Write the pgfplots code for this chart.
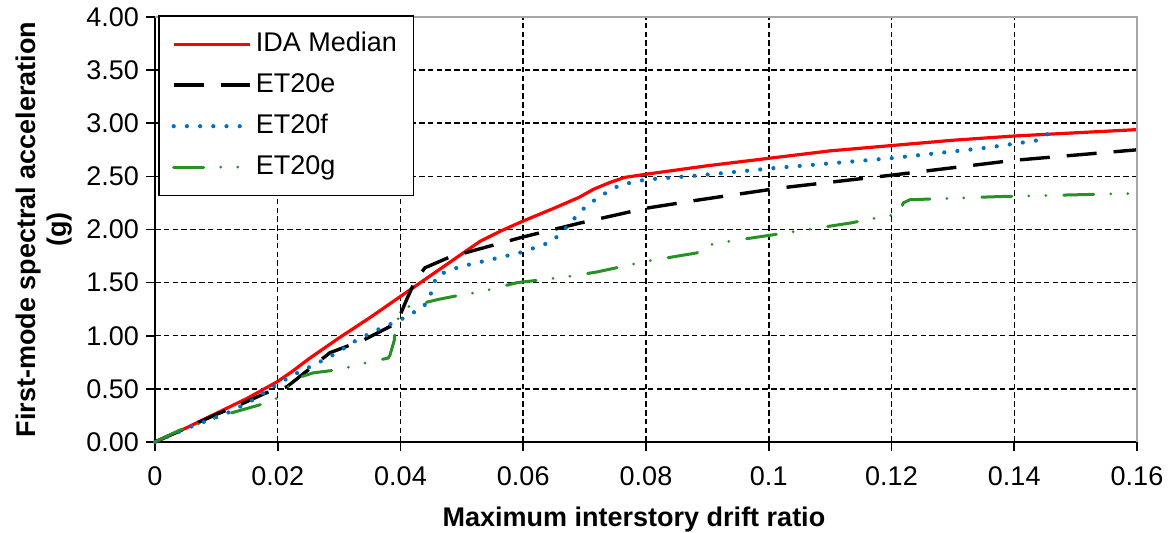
\documentclass[border=0pt]{standalone}
\usepackage{fontspec}
\setmainfont{Liberation Sans}
\usepackage{pgfplots}
\pgfplotsset{compat=1.18}
\definecolor{idared}{RGB}{255,0,0}
\definecolor{etblue}{RGB}{0,112,192}
\definecolor{etgreen}{RGB}{40,145,35}

\begin{document}
\begin{tikzpicture}
\begin{axis}[
    scale only axis,
    width=491pt, height=212.5pt,
    xmin=0, xmax=0.16,
    ymin=0, ymax=4,
    xtick={0,0.02,0.04,0.06,0.08,0.1,0.12,0.14,0.16},
    ytick={0,0.5,...,4},
    scaled x ticks=false,
    xticklabel style={yshift=-4.5pt, /pgf/number format/.cd, fixed, precision=2},
    yticklabel style={/pgf/number format/.cd, fixed, fixed zerofill, precision=2},
    /pgf/number format/assume math mode=true,
    tick label style={font=\fontsize{13.5}{15}\selectfont},
    axis x line*=bottom,
    axis y line*=left,
    axis line style={black, line width=1pt},
    tick align=outside,
    major tick length=4.5pt,
    tick style={black, line width=0.8pt},
    grid=major,
    grid style={black, line width=0.75pt, dash pattern=on 2.8pt off 1.6pt},
    xlabel={Maximum interstory drift ratio},
    ylabel={First-mode spectral acceleration\\(g)},
    label style={font=\bfseries\fontsize{13.5}{15.5}\selectfont},
    xlabel style={at={(axis description cs:0.5,0)}, anchor=center, yshift=-39pt, xshift=-6pt},
    ylabel style={align=center},
    clip=false,
    legend cell align=left,
    legend image code/.code={\draw[#1] (0pt,0pt) -- (38pt,0pt);},
    legend style={
        at={(rel axis cs:0,1)}, anchor=north west, xshift=1.5pt, yshift=1pt,
        draw=black, line width=0.8pt, fill=white,
        font=\fontsize{13.5}{16}\selectfont,
        inner xsep=6.4pt, inner ysep=5.7pt, row sep=3.5pt,
        nodes={inner sep=2pt, text height=10pt, text depth=3pt},
    },
]

\addplot[idared, line width=1.6pt] coordinates {
    (0,0)(0.005,0.13)(0.01,0.27)(0.015,0.41)(0.02,0.57)(0.0225,0.67)
    (0.025,0.78)(0.0275,0.88)(0.03,0.98)(0.035,1.17)(0.04,1.37)(0.045,1.57)
    (0.05,1.77)(0.053,1.89)(0.0565,1.99)(0.06,2.08)(0.065,2.20)(0.069,2.30)
    (0.0715,2.38)(0.074,2.44)(0.0765,2.49)(0.08,2.52)(0.085,2.56)(0.09,2.60)
    (0.1,2.67)(0.11,2.74)(0.12,2.79)(0.13,2.84)(0.14,2.88)(0.15,2.91)(0.16,2.94)
};

\addplot[black, line width=1.7pt, dash pattern=on 15pt off 8.5pt] coordinates {
    (0,0)(0.005,0.13)(0.01,0.26)(0.0138,0.35)(0.018,0.46)(0.0215,0.52)
    (0.025,0.68)(0.0285,0.84)(0.034,0.96)(0.0394,1.12)(0.041,1.34)(0.0424,1.52)
    (0.044,1.64)(0.048,1.74)(0.0562,1.87)(0.06,1.93)(0.0692,2.06)(0.080,2.20)
    (0.0888,2.28)(0.1018,2.39)(0.1198,2.51)(0.1398,2.65)(0.16,2.75)
};

\addplot[etblue, line width=2.1pt, line cap=round, dash pattern=on 0pt off 6.6pt] coordinates {
    (0,0)(0.0057,0.14)(0.0117,0.27)(0.0155,0.38)(0.019,0.51)(0.0225,0.63)
    (0.0264,0.74)(0.030,0.85)(0.0323,0.94)(0.036,1.05)(0.040,1.15)(0.0437,1.27)
    (0.0448,1.36)(0.0452,1.46)(0.046,1.57)(0.0497,1.65)(0.0557,1.73)(0.06,1.79)
    (0.0644,1.88)(0.0663,1.97)(0.0676,2.06)(0.0704,2.23)(0.0736,2.35)(0.0758,2.42)
    (0.080,2.47)(0.0888,2.51)(0.1013,2.58)(0.1198,2.67)(0.1356,2.77)(0.1439,2.84)
    (0.1455,2.90)
};

\addplot[etgreen, line width=1.5pt, line cap=round,
    dash pattern=on 15pt off 8.5pt on 0pt off 8.5pt on 0pt off 9pt] coordinates {
    (0,0)(0.004,0.11)(0.0122,0.27)(0.0171,0.35)(0.0196,0.40)(0.0215,0.51)
    (0.0231,0.60)(0.0257,0.65)(0.0285,0.67)(0.0313,0.70)(0.034,0.74)(0.038,0.79)
    (0.0383,0.82)(0.039,0.96)(0.0392,1.12)(0.0404,1.24)(0.041,1.27)(0.0432,1.30)
    (0.046,1.34)(0.0486,1.37)(0.0535,1.42)(0.059,1.50)(0.0665,1.55)(0.072,1.60)
    (0.080,1.70)(0.0883,1.78)(0.0899,1.85)(0.0925,1.88)(0.1007,1.95)(0.1132,2.06)
    (0.1186,2.12)(0.1214,2.15)(0.1219,2.25)(0.123,2.28)(0.1377,2.31)(0.16,2.34)
};

\legend{IDA Median, ET20e, ET20f, ET20g}

\draw[gray!70, line width=1pt] (rel axis cs:0,1) -- (rel axis cs:1,1) -- (rel axis cs:1,0);
\end{axis}
\pgfresetboundingbox
\path[use as bounding box] (-77.5pt,-45.5pt) rectangle (507pt,221pt);
\end{tikzpicture}
\end{document}
